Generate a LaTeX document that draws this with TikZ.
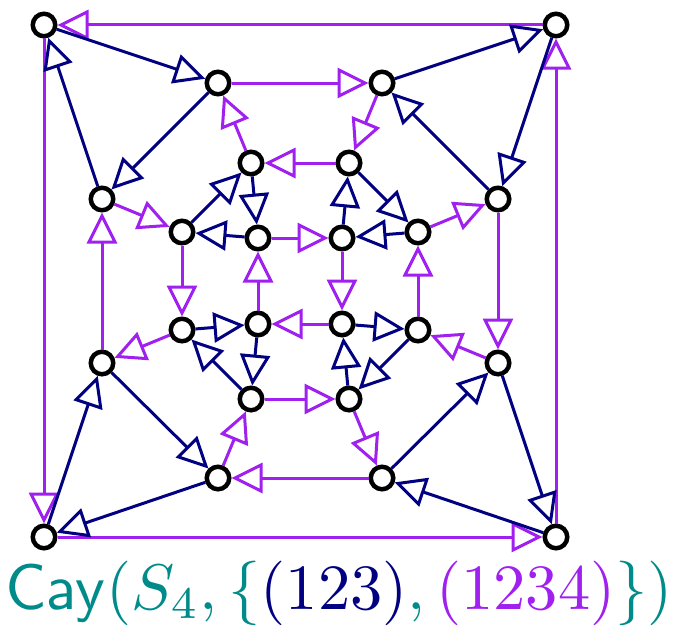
\documentclass[tikz,border=0pt]{standalone}
\usetikzlibrary{arrows.meta}
\definecolor{navyc}{RGB}{0,0,128}
\definecolor{purplec}{RGB}{160,32,240}
\definecolor{tealc}{RGB}{0,139,139}
\tikzset{
  vtx/.style={circle, draw=black, line width=4.5pt, fill=white, minimum size=22.5pt, inner sep=0pt},
  gen/.style={line width=3pt, -{Triangle[open, length=31pt, width=30pt]}},
  ga/.style={gen, draw=navyc},
  gb/.style={gen, draw=purplec},
  lbl/.style={anchor=base, inner sep=0pt, text=tealc, scale=6.45, transform shape}
}
\begin{document}
\begin{tikzpicture}[x=1pt, y=-1pt]
\useasboundingbox (0,0) rectangle (676,626);
% vertices
\node[vtx] (A1) at (44,25) {};
\node[vtx] (A2) at (556,25) {};
\node[vtx] (A3) at (44,537) {};
\node[vtx] (A4) at (556,537) {};
\node[vtx] (B1) at (218,83) {};
\node[vtx] (B2) at (382,83) {};
\node[vtx] (B3) at (102,199) {};
\node[vtx] (B4) at (498,199) {};
\node[vtx] (B5) at (102,363) {};
\node[vtx] (B6) at (498,363) {};
\node[vtx] (B7) at (218,478) {};
\node[vtx] (B8) at (382,478) {};
\node[vtx] (C1) at (251,163) {};
\node[vtx] (C2) at (349,163) {};
\node[vtx] (C3) at (182,232) {};
\node[vtx] (C4) at (418,232) {};
\node[vtx] (C5) at (182,330) {};
\node[vtx] (C6) at (418,330) {};
\node[vtx] (C7) at (251,399) {};
\node[vtx] (C8) at (349,399) {};
\node[vtx] (D1) at (258,238) {};
\node[vtx] (D2) at (342,238) {};
\node[vtx] (D3) at (258,324) {};
\node[vtx] (D4) at (342,324) {};
% (1234) edges
\draw[gb] (A2) -- (A1);
\draw[gb] (A1) -- (A3);
\draw[gb] (A3) -- (A4);
\draw[gb] (A4) -- (A2);
\draw[gb] (B1) -- (B2);
\draw[gb] (B2) -- (C2);
\draw[gb] (C2) -- (C1);
\draw[gb] (C1) -- (B1);
\draw[gb] (B5) -- (B3);
\draw[gb] (B3) -- (C3);
\draw[gb] (C3) -- (C5);
\draw[gb] (C5) -- (B5);
\draw[gb] (B4) -- (B6);
\draw[gb] (B6) -- (C6);
\draw[gb] (C6) -- (C4);
\draw[gb] (C4) -- (B4);
\draw[gb] (B8) -- (B7);
\draw[gb] (B7) -- (C7);
\draw[gb] (C7) -- (C8);
\draw[gb] (C8) -- (B8);
\draw[gb] (D1) -- (D2);
\draw[gb] (D2) -- (D4);
\draw[gb] (D4) -- (D3);
\draw[gb] (D3) -- (D1);
% (123) edges
\draw[ga] (A1) -- (B1);
\draw[ga] (B1) -- (B3);
\draw[ga] (B3) -- (A1);
\draw[ga] (B2) -- (A2);
\draw[ga] (A2) -- (B4);
\draw[ga] (B4) -- (B2);
\draw[ga] (A3) -- (B5);
\draw[ga] (B5) -- (B7);
\draw[ga] (B7) -- (A3);
\draw[ga] (B6) -- (A4);
\draw[ga] (A4) -- (B8);
\draw[ga] (B8) -- (B6);
\draw[ga] (C3) -- (C1);
\draw[ga] (C1) -- (D1);
\draw[ga] (D1) -- (C3);
\draw[ga] (D2) -- (C2);
\draw[ga] (C2) -- (C4);
\draw[ga] (C4) -- (D2);
\draw[ga] (C5) -- (D3);
\draw[ga] (D3) -- (C7);
\draw[ga] (C7) -- (C5);
\draw[ga] (D4) -- (C6);
\draw[ga] (C6) -- (C8);
\draw[ga] (C8) -- (D4);
% label
\node[lbl] (cap) at (339,609) {$\mathsf{Cay}(S_4,\{\textcolor{navyc}{(123)},\textcolor{purplec}{(1234)}\})$};
\end{tikzpicture}
\end{document}
